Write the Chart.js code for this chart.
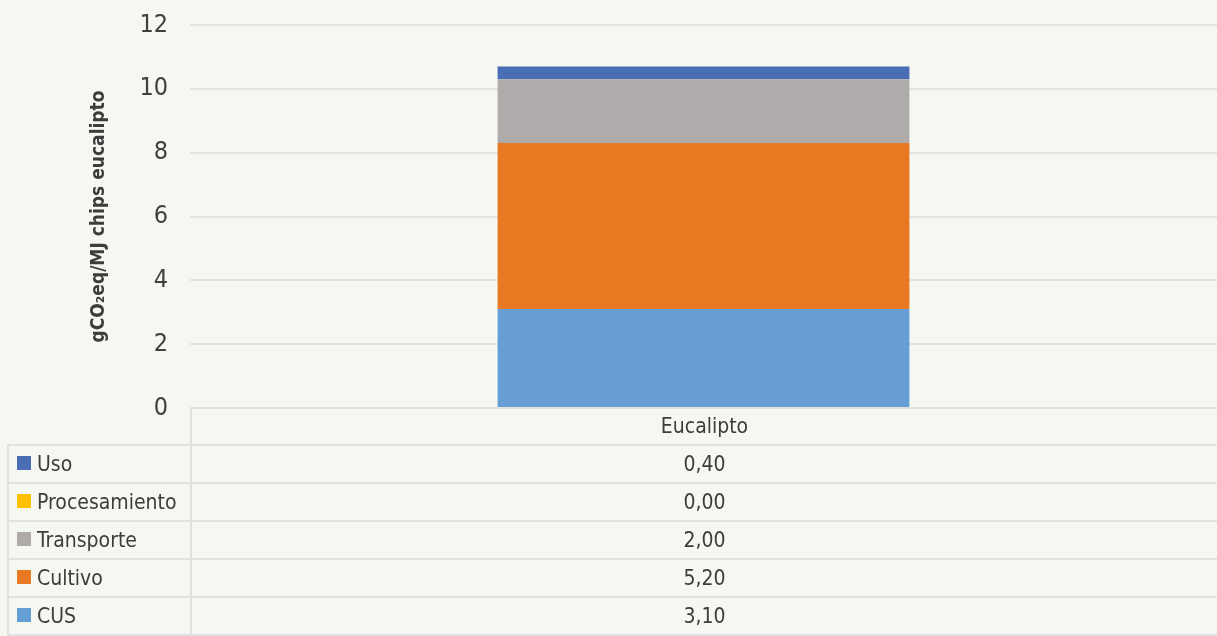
<!DOCTYPE html>
<html>
<head>
<meta charset="utf-8">
<script src="https://cdn.jsdelivr.net/npm/chart.js@4.4.1/dist/chart.umd.min.js"></script>
<style>
  html, body { margin: 0; padding: 0; background: #f5f8f0; }
  body { width: 1217px; height: 636px; position: relative; overflow: hidden;
         font-family: "DejaVu Sans", sans-serif; font-stretch: condensed; color: #3c3c3c; }
  #chart { position: absolute; left: 0; top: 0; }
  #dataTable { position: absolute; left: 7px; top: 407px; width: 1212px;
               border-collapse: collapse; table-layout: fixed; font-size: 21px; }
  #dataTable td { border: 2px solid #e1e1e1; padding: 0; height: 36px; text-align: center; line-height: 1; }
  #dataTable tr.head td { height: 35px; }
  #dataTable td.lbl { text-align: left; padding-left: 8px; white-space: nowrap; }
  #dataTable td.blank { border-top-style: hidden; border-left-style: hidden; }
  .sw { display: inline-block; width: 14px; height: 14px; margin-right: 6px; vertical-align: 1px; }
</style>
</head>
<body>
<canvas id="chart" width="1217" height="440"></canvas>
<table id="dataTable"></table>
<script>
// datos
const categories = ['Eucalipto'];
const seriesNames = ['CUS', 'Cultivo', 'Transporte', 'Procesamiento', 'Uso'];
const cus = [3.1];
const cultivo = [5.2];
const transporte = [2.0];
const procesamiento = [0.0];
const uso = [0.4];
const yTicks = [0, 2, 4, 6, 8, 10, 12];
const colors = ['#679ed6', '#e97823', '#aeabaa', '#ffc000', '#4a6eb5'];

const seriesValues = [cus, cultivo, transporte, procesamiento, uso];
const FONT = '"DejaVu Sans", sans-serif';

new Chart(document.getElementById('chart'), {
  type: 'bar',
  data: {
    labels: categories,
    datasets: seriesNames.map((name, i) => ({
      label: name,
      data: seriesValues[i],
      backgroundColor: colors[i],
      borderWidth: 0,
      categoryPercentage: 1,
      barPercentage: 0.401
    }))
  },
  options: {
    responsive: false,
    animation: false,
    layout: { padding: { top: 25, right: 0, bottom: 32, left: 0 } },
    plugins: { legend: { display: false }, tooltip: { enabled: false } },
    scales: {
      x: { stacked: true, display: false },
      y: {
        stacked: true,
        min: 0, max: 12,
        afterBuildTicks: s => { s.ticks = yTicks.map(v => ({ value: v })); },
        afterFit: s => { s.width = 190; s.paddingTop = 0; s.paddingBottom = 0; },
        border: { display: false },
        grid: { color: '#e2e2e2', lineWidth: 2, drawTicks: false },
        // "condensed" va en weight para que llegue al ctx.font
        ticks: { padding: 22, color: '#404040', font: { family: FONT, size: 25, weight: 'condensed' } },
        title: {
          display: true,
          text: 'gCO₂eq/MJ chips eucalipto',
          color: '#3c3c3c',
          font: { family: FONT, size: 19, weight: 'bold condensed' },
          padding: { top: 88, bottom: 0 }
        }
      }
    }
  }
});

// tabla de datos
function fmt(v) { return v.toFixed(2).replace('.', ','); }
function populateTable() {
  const table = document.getElementById('dataTable');
  let html = '<colgroup><col style="width:183px"><col></colgroup>';
  html += '<tr class="head"><td class="blank"></td>' + categories.map(c => `<td>${c}</td>`).join('') + '</tr>';
  for (let i = seriesNames.length - 1; i >= 0; i--) {
    html += `<tr><td class="lbl"><span class="sw" style="background:${colors[i]}"></span>${seriesNames[i]}</td>` +
      seriesValues[i].map(v => `<td>${fmt(v)}</td>`).join('') + '</tr>';
  }
  table.innerHTML = html;
}
populateTable();
</script>
</body>
</html>
